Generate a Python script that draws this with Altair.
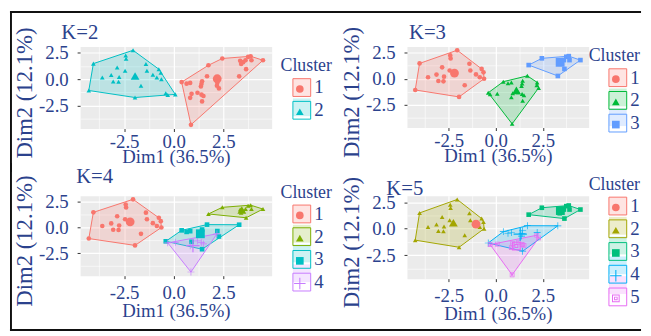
import altair as alt
import pandas as pd

# ---------------- data ----------------
dim1 = [-2.05, -2.42, -2.40, -4.05, -2.85, -2.45, -1.40, -1.35, -0.75, -0.65,
        -3.15, -2.75, -3.60, -0.85, -0.62, -3.05, -2.78, -1.65, -4.28, -1.95,
        -1.05,
        -0.40, -0.30, 0.08,
        1.75, 2.45, 3.75, 3.88, 3.92, 4.50, 3.65, 3.35, 3.50, 3.40, 3.62,
        3.30,
        0.40, 0.65, 0.83, 1.68, 1.43, 1.40, 0.90, 1.40, 1.43, 0.83, 2.20, 2.28,
        0.87, 1.20, 1.50, 1.37, 2.18]
dim2 = [2.75, 2.25, 1.95, 1.48, 1.10, 0.80, 1.45, 0.80, 0.95, 0.62,
        0.40, 0.20, 0.15, 0.15, 0.00, -0.22, -0.25, -0.62, -1.08, -1.75,
        0.42,
        -1.35, -1.50, -1.45,
        1.32, 1.97, 2.12, 2.18, 1.80, 1.80, 0.95, 1.75, 1.62, 1.45, 1.80,
        0.27,
        -0.28, -0.43, -0.36, 0.28, -0.20, -0.45, -1.40, -1.48, -2.12, -1.78, -0.35, -0.88,
        -4.35, -1.30, -1.60, -0.70, -0.62]

cl_k2 = [2, 2, 2, 2, 2, 2, 2, 2, 2, 2, 2, 2, 2, 2, 2, 2, 2, 2, 2, 2,
         2,
         2, 2, 2,
         1, 1, 1, 1, 1, 1, 1, 1, 1, 1, 1,
         1,
         1, 1, 1, 1, 1, 1, 1, 1, 1, 1, 1, 1, 1, 1, 1, 1, 1]
cl_k3 = [1, 1, 1, 1, 1, 1, 1, 1, 1, 1, 1, 1, 1, 1, 1, 1, 1, 1, 1, 1,
         1,
         2, 2, 2,
         3, 3, 3, 3, 3, 3, 3, 3, 3, 3, 3,
         3,
         2, 2, 2, 2, 2, 2, 2, 2, 2, 2, 2, 2, 2, 2, 2, 2, 2]
cl_k4 = [1, 1, 1, 1, 1, 1, 1, 1, 1, 1, 1, 1, 1, 1, 1, 1, 1, 1, 1, 1,
         1,
         3, 4, 4,
         2, 2, 2, 2, 2, 2, 2, 2, 2, 2, 2,
         3,
         3, 3, 3, 3, 3, 3, 3, 4, 3, 4, 3, 3, 4, 4, 4, 3, 4]
cl_k5 = [2, 2, 2, 2, 2, 2, 2, 2, 2, 2, 2, 2, 2, 2, 2, 2, 2, 2, 2, 2,
         1,
         4, 5, 5,
         3, 3, 3, 3, 3, 3, 3, 3, 3, 3, 3,
         4,
         4, 4, 4, 4, 4, 4, 5, 5, 4, 5, 4, 5, 5, 5, 5, 4, 5]

tick_values = [-2.5, 0.0, 2.5]
tick_labels = ["-2.5", "0.0", "2.5"]
x_title = "Dim1 (36.5%)"
y_title = "Dim2 (12.1%)"
legend_title = "Cluster"

# ---------------- style ----------------
FONT = "Liberation Serif"
TXT = "#2B428D"
PALETTES = {
    2: ["#F8766D", "#00BFC4"],
    3: ["#F8766D", "#00BA38", "#619CFF"],
    4: ["#F8766D", "#7CAE00", "#00BFC4", "#C77CFF"],
    5: ["#F8766D", "#A3A500", "#00BF7D", "#00B0F6", "#E76BF3"],
}
PLUS = "M-1.5,-0.14H-0.14V-1.5H0.14V-0.14H1.5V0.14H0.14V1.5H-0.14V0.14H-1.5Z"
BOXSQ = ("M-1,-1H1V1H-1Z M-0.74,-0.74V0.74H0.74V-0.74Z "
         "M-0.46,-0.46H0.46V0.46H-0.46Z M-0.22,-0.22V0.22H0.22V-0.22Z")
SHAPES = ["circle", "triangle-up", "square", PLUS, BOXSQ]


def hull(points):
    pts = sorted(set(points))
    if len(pts) <= 2:
        return pts

    def cross(o, a, b):
        return (a[0] - o[0]) * (b[1] - o[1]) - (a[1] - o[1]) * (b[0] - o[0])

    lower, upper = [], []
    for p in pts:
        while len(lower) >= 2 and cross(lower[-2], lower[-1], p) <= 0:
            lower.pop()
        lower.append(p)
    for p in reversed(pts):
        while len(upper) >= 2 and cross(upper[-2], upper[-1], p) <= 0:
            upper.pop()
        upper.append(p)
    return lower[:-1] + upper[:-1]


def expand(vals):
    lo, hi = min(vals), max(vals)
    pad = (hi - lo) * 0.05
    return [lo - pad, hi + pad]


XDOM = expand(dim1)
YDOM = expand(dim2)


def grid_values(dom):
    step = tick_values[1] - tick_values[0]
    vals = []
    v = tick_values[0] - step * 2
    while v <= dom[1] + 1e-9:
        if v >= dom[0] - 1e-9:
            vals.append(round(v, 4))
        v += step / 2
    return vals


def label_expr():
    parts = [f"datum.value == {v} ? '{t}'" for v, t in zip(tick_values, tick_labels)]
    return " : ".join(parts) + " : ''"


MAJOR = "indexof(" + str(tick_values) + ", datum.value) >= 0"


def make_axis(title, is_y, H, lab_pad=1, tit_pad=-4):
    extra = dict(titleY=H / 2 + 5) if is_y else {}
    return alt.Axis(
        title=title, values=grid_values(YDOM if is_y else XDOM), labelExpr=label_expr(),
        domain=False, labelFont=FONT, titleFont=FONT, labelColor=TXT, titleColor=TXT,
        labelFontSize=19, titleFontSize=23 if is_y else 19, titleFontWeight="normal",
        tickSize=3, tickColor="#333333", labelFlush=False, labelOverlap=False,
        tickOpacity={"condition": {"test": MAJOR, "value": 1}, "value": 0},
        gridColor="white",
        gridWidth={"condition": {"test": MAJOR, "value": 1.2}, "value": 0.6},
        labelPadding=9 if is_y else lab_pad, titlePadding=2 if is_y else tit_pad,
        **extra,
    )


def frame_layer(hsegs, vsegs):
    """Outer border of the figure (decoration, pixel offsets from the plot corner)."""
    one = pd.DataFrame({"f": [0]})
    layers = []
    for x1, x2, y in hsegs:
        layers.append(alt.Chart(one).mark_rule(color="#111111", strokeWidth=2).encode(
            x=alt.value(x1), x2=alt.value(x2), y=alt.value(y)))
    for x, y1, y2 in vsegs:
        layers.append(alt.Chart(one).mark_rule(color="#111111", strokeWidth=2).encode(
            x=alt.value(x), y=alt.value(y1), y2=alt.value(y2)))
    return layers


def panel(k, clusters, W, H, title_dx, title_off, leg_x, leg_y, sym_off,
          hsegs, vsegs, lift=0, xlab_pad=1, xtit_pad=-4):
    cols = PALETTES[k]
    cats = [str(i) for i in range(1, k + 1)]
    df = pd.DataFrame({"Dim1": dim1, "Dim2": dim2, "Cluster": [str(c) for c in clusters]})

    rows = []
    for c in cats:
        sub = df[df.Cluster == c]
        hv = hull(list(zip(sub.Dim1, sub.Dim2)))
        for i, (x, y) in enumerate(hv + [hv[0]]):
            rows.append({"Dim1": x, "Dim2": y, "cf": c, "cs": c, "ord": i})
    hdf = pd.DataFrame(rows)
    cdf = df.groupby("Cluster", as_index=False)[["Dim1", "Dim2"]].mean()

    xs = alt.Scale(domain=XDOM, nice=False, zero=False)
    ys = alt.Scale(domain=YDOM, nice=False, zero=False)
    X = alt.X("Dim1:Q", scale=xs, axis=make_axis(x_title, False, H, xlab_pad, xtit_pad))
    Y = alt.Y("Dim2:Q", scale=ys, axis=make_axis(y_title, True, H))

    common = dict(orient="none", legendX=W + leg_x, title=legend_title,
                  titleFont=FONT, titleFontSize=18, titleFontWeight="normal", titleColor=TXT,
                  labelFont=FONT, labelColor=TXT, padding=0, labelOffset=3)
    legA = alt.Legend(symbolType="square", symbolSize=324, symbolOpacity=0.2,
                      symbolStrokeWidth=0, labelOpacity=0, titleOpacity=0, zindex=0,
                      legendY=leg_y - lift, titlePadding=3 + lift, labelFontSize=19,
                      rowPadding=0, symbolOffset=sym_off, **common)
    legB = alt.Legend(symbolType="square", symbolSize=324, symbolFillColor="transparent",
                      symbolStrokeWidth=1, zindex=1, legendY=leg_y, titlePadding=3,
                      labelFontSize=19, rowPadding=0, symbolOffset=sym_off, **common)
    legC = alt.Legend(symbolSize=60, labelOpacity=0, titleOpacity=0, zindex=2,
                      legendY=leg_y + 2.5, titlePadding=3, labelFontSize=17,
                      rowPadding=5, symbolOffset=sym_off - 1, **common)

    cscale = alt.Scale(range=cols)
    sscale = alt.Scale(range=SHAPES[:k])

    poly = alt.Chart(hdf).mark_line(fillOpacity=0.2, strokeWidth=1).encode(
        x=X, y=Y, order="ord:Q",
        fill=alt.Fill("cf:N", scale=alt.Scale(range=cols), legend=legA),
        stroke=alt.Stroke("cs:N", scale=alt.Scale(range=cols), legend=legB),
    )
    pts = alt.Chart(df).mark_point(filled=True, size=22, opacity=1).encode(
        x=X, y=Y,
        color=alt.Color("Cluster:N", scale=cscale, legend=legC),
        shape=alt.Shape("Cluster:N", scale=sscale, legend=legC),
    )
    cen = alt.Chart(cdf).mark_point(filled=True, size=80, opacity=1).encode(
        x=X, y=Y,
        color=alt.Color("Cluster:N", scale=cscale, legend=legC),
        shape=alt.Shape("Cluster:N", scale=sscale, legend=legC),
    )
    return alt.layer(poly, pts, cen, *frame_layer(hsegs, vsegs)).properties(
        width=W, height=H,
        title=alt.TitleParams(text=f"K={k}", anchor="start", frame="group", dx=title_dx,
                              offset=title_off, font=FONT, fontSize=21,
                              fontWeight="normal", color=TXT),
    )


RES = dict(color="independent", shape="independent", fill="independent", stroke="independent")

p1 = panel(2, cl_k2, 194, 83, -19, -32, 9, 11, 12,
           hsegs=[(-71, 258, -35)], vsegs=[(-70, -35, 127)])
p2 = panel(3, cl_k3, 184, 82, 2, -32, 0, 1, 20,
           hsegs=[(-75, 237, -35)], vsegs=[])
p3 = panel(4, cl_k4, 194, 81, -4, -25, 9, -12, 12,
           hsegs=[(-71, 258, 136)], vsegs=[(-70, -33, 136)], xlab_pad=5, xtit_pad=-1)
p4 = panel(5, cl_k5, 184, 84, -21, -36, 0, -20, 20,
           hsegs=[(-75, 237, 136)], vsegs=[], lift=13, xlab_pad=5, xtit_pad=-1)

row1 = alt.hconcat(p1, p2, spacing=-6).resolve_scale(**RES)
row2 = alt.hconcat(p3, p4, spacing=-6).resolve_scale(**RES)
chart = alt.vconcat(row1, row2, spacing=-13).resolve_scale(**RES).properties(
    padding={"left": 0, "top": 0, "right": 0, "bottom": 0}
).configure_view(fill="#EBEBEB", stroke="transparent")

chart.save("out.html", embed_options={"renderer": "svg", "actions": False})
